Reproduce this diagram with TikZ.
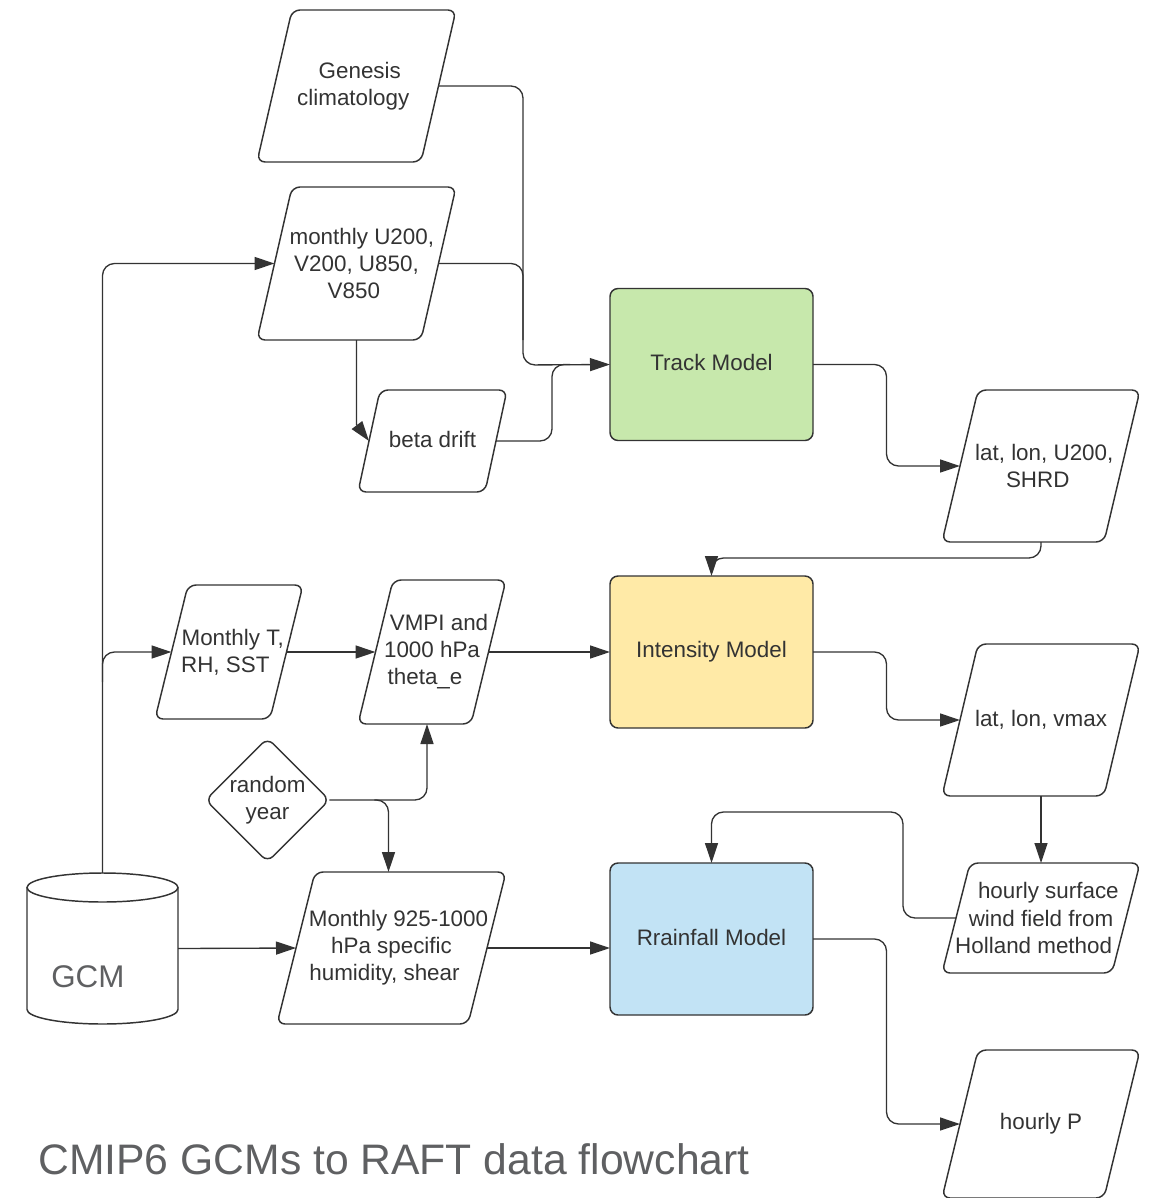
\documentclass[tikz,border=0pt]{standalone}
\usepackage{fontspec}
\setmainfont{Liberation Sans}
\usetikzlibrary{shapes.geometric,arrows.meta,calc}
\definecolor{ln}{HTML}{333333}
\definecolor{txt}{HTML}{333333}
\definecolor{gfill}{HTML}{C7E8AC}
\definecolor{yfill}{HTML}{FFEAA7}
\definecolor{bfill}{HTML}{C2E3F5}
\definecolor{ttl}{HTML}{5F6062}
% #1 name, #2 centre, #3 width, #4 height, #5 slant offset (px), #6 text
\newcommand\myparal[6]{%
  \node[ptxt, minimum width=#3, minimum height=#4] (#1) at (#2) {#6};
  \draw[pshape] (#1.south west) -- ($(#1.north west)+(#5,0)$) -- (#1.north east)
    -- ($(#1.south east)+(-#5,0)$) -- cycle;
  \coordinate (#1-w) at ($(#1.west)+(#5/2,0)$);
  \coordinate (#1-e) at ($(#1.east)+(-#5/2,0)$);
}
% shift text lines along the slant
\newcommand\rsh[2]{\hspace*{#1}#2}
\newcommand\lsh[2]{#2\hspace*{#1}}
\begin{document}
\begin{tikzpicture}[x=0.75pt,y=-0.75pt,
  ptxt/.style={rectangle, text=txt, font=\fontsize{16.8}{20.3}\selectfont, align=center, inner sep=0pt, outer sep=0pt},
  pshape/.style={draw=ln, line width=1.1pt, rounded corners=6pt},
  base/.style={ptxt, draw=ln, line width=1.1pt},
  model/.style={base, minimum width=152.25pt, minimum height=114pt, rounded corners=6pt},
  conn/.style={draw=ln, line width=1pt, rounded corners=9pt},
  arr/.style={conn, -{Triangle[length=15pt,width=9.75pt]}},
]
\useasboundingbox (0,0) rectangle (1150,1198);

% nodes
\myparal{gen}{356.5,86}{149.25pt}{114pt}{35}{\rsh{4.9pt}{Genesis}\\\lsh{4.9pt}{climatology}}
\myparal{mon}{356.5,263.5}{149.25pt}{114.75pt}{35}{\rsh{8pt}{monthly U200,}\\V200, U850,\\\lsh{4pt}{V850}}
\myparal{beta}{432.5,441}{111.75pt}{76.5pt}{22}{\raisebox{3pt}{beta drift}}
\node[model, fill=gfill] (track) at (711.5,364.5) {\raisebox{3pt}{Track Model}};
\myparal{latu}{1041,466}{148.5pt}{114pt}{36}{\rsh{4.9pt}{lat, lon, U200,}\\\lsh{4.9pt}{SHRD}}
\myparal{mt}{229,652}{111pt}{100.5pt}{33}{\rsh{5.5pt}{Monthly T,}\\\lsh{5.5pt}{RH, SST}}
\myparal{vmpi}{432,652}{111pt}{108pt}{35}{\rsh{10.5pt}{VMPI and}\\1000 hPa\\\lsh{10.5pt}{theta\_e}}
\node[model, fill=yfill] (inten) at (711.5,652) {\raisebox{3pt}{Intensity Model}};
\myparal{latv}{1041,720}{148.5pt}{114pt}{36}{lat, lon, vmax}
\node[base, diamond, minimum width=89.25pt, minimum height=87.75pt, rounded corners=6pt] (ry) at (267.5,800) {random\\year};
\myparal{m925}{391.5,948}{171.75pt}{114pt}{38}{\rsh{10.5pt}{Monthly 925-1000}\\hPa specific\\\lsh{10.5pt}{humidity, shear}}
\node[model, fill=bfill] (rain) at (711.5,939) {\raisebox{3pt}{Rrainfall Model}};
\myparal{hsw}{1041,918}{148.5pt}{82.5pt}{28}{\rsh{11pt}{hourly surface}\\wind field from\\\lsh{11pt}{Holland method}}
\myparal{hp}{1041,1124}{148.5pt}{111pt}{36}{hourly P}

% GCM cylinder
\node[inner sep=0pt, outer sep=0pt, minimum width=113.25pt, minimum height=113.25pt] (gcm) at (102.5,948.5) {};
\draw[draw=ln, line width=1.1pt, fill=white]
  ($(gcm.north west)+(0,14.5)$) -- ($(gcm.south west)+(0,-14.5)$)
  arc[start angle=180, end angle=360, x radius=56.625pt, y radius=10.875pt]
  -- ($(gcm.north east)+(0,14.5)$);
\draw[draw=ln, line width=1.1pt] ($(gcm.north)+(0,14.5)$) ellipse[x radius=56.625pt, y radius=10.875pt];
\node[anchor=base west, inner sep=0pt, text=ttl, font=\fontsize{23.5}{28}\selectfont] (gcmlabel) at (51,987) {GCM};

% title
\node[anchor=base west, inner sep=0pt, text=ttl, font=\fontsize{32}{38}\selectfont] (title) at (38,1174) {CMIP6 GCMs to RAFT data flowchart};

% connectors
\coordinate (j1) at (523,365);
\draw[arr] (gen-e) -| (j1) -- (track.west);
\draw[conn] (mon-e) -| ($(j1)+(0,-25)$);
\draw[conn] (beta-e) -| ($(track.west)+(-58,0)$) -- ($(track.west)+(-40,0)$);
\draw[draw=ln, line width=1pt, -{Triangle[length=15pt,width=9.75pt]}] (mon.south) -- ($(mon.center)+(0,161)$) -- (beta-w);

\draw[arr] (track.east) -| ($(track.east)!.5!(latu-w)$) |- (latu-w);
\draw[arr] (latu.south) -- ++(0,16) -| (inten.north);
\draw[arr] (inten.east) -| ($(inten.east)!.5!(latv-w)$) |- (latv-w);
\draw[arr] (latv.south) -- (hsw.north);
\draw[arr] (hsw-w) -- ++(-53,0) |- ($(rain.north)+(0,-51)$) -- (rain.north);
\draw[arr] (rain.east) -| ($(rain.east)!.5!(hp-w)$) |- (hp-w);

\draw[arr] (gcm.north) |- (mon-w);
\draw[arr] ($(gcm.north |- mt-w)+(0,30)$) |- (mt-w);
\draw[arr] (mt-e) -- (vmpi-w);
\draw[arr] (vmpi-e) -- (inten.west);
\draw[arr] (ry.east) -| ($(vmpi.south)+(-5,0)$);
\draw[arr] ($(ry.east)+(45,0)$) -| ($(m925.north)+(-3,0)$);
\draw[arr] (gcm.east) -- (m925-w);
\draw[arr] (m925-e) -- (m925-e -| rain.west);
\end{tikzpicture}
\end{document}
